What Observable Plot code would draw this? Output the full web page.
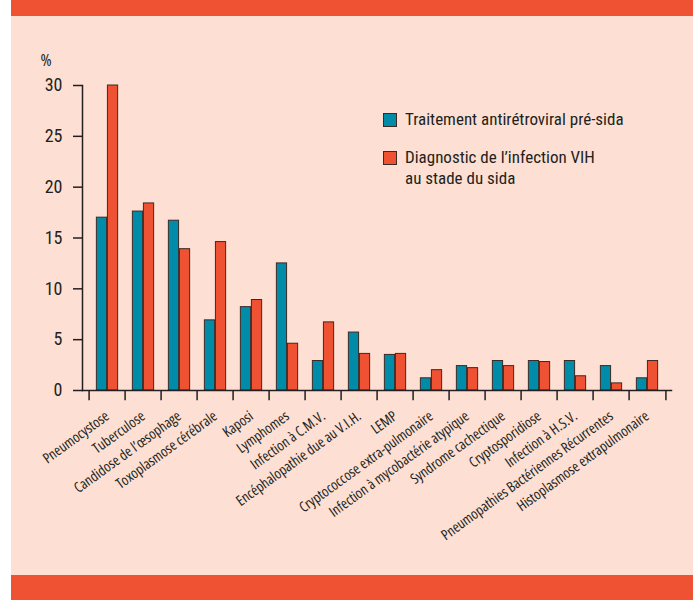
<!DOCTYPE html>
<html>
<head>
<meta charset="utf-8">
<script src="https://cdn.jsdelivr.net/npm/d3@7"></script>
<script src="https://cdn.jsdelivr.net/npm/@observablehq/plot@0.6"></script>
<style>
  html, body { margin: 0; padding: 0; background: #ffffff; }
  #wrap { position: relative; width: 693px; height: 600px; overflow: hidden;
          font-family: "Open Sans", sans-serif; font-stretch: condensed; color: #231f20; }
  .layer { position: absolute; }
  #legend { position: absolute; left: 383px; top: 109px; font-family: "Roboto Condensed", "Open Sans", sans-serif;
            font-size: 17px; line-height: 21px; }
  .item { display: flex; align-items: flex-start; margin-bottom: 17px; }
  .sw { width: 12px; height: 12px; border: 1px solid #3a2a25; margin-right: 8px; margin-top: 4px; flex: none; }
  svg text { font-stretch: condensed; }
  svg g[aria-label="y-axis tick label"] text, svg g[aria-label="unit"] text { font-family: "Roboto Condensed", "Open Sans", sans-serif; }
</style>
</head>
<body>
<div id="wrap">
  <div class="layer" style="left:11px;right:0;top:0;height:600px;background:#fde0d3"></div>
  <div class="layer" style="left:11px;right:0;top:0;height:16px;background:#ef5133"></div>
  <div class="layer" style="left:11px;right:0;top:575px;height:25px;background:#ef5133"></div>
  <div id="chart" class="layer" style="left:0;top:0"></div>
  <div id="legend"></div>
</div>
<script>
const categories = [
  "Pneumocystose", "Tuberculose", "Candidose de l’œsophage", "Toxoplasmose cérébrale",
  "Kaposi", "Lymphomes", "Infection à C.M.V.", "Encéphalopathie due au V.I.H.", "LEMP",
  "Cryptococcose extra-pulmonaire", "Infection à mycobactérie atypique", "Syndrome cachectique",
  "Cryptosporidiose", "Infection à H.S.V.", "Pneumopathies Bactériennes Récurrentes",
  "Histoplasmose extrapulmonaire"
];
const seriesNames = ["Traitement antirétroviral pré-sida", "Diagnostic de l’infection VIH\nau stade du sida"];
const preSida   = [17.0, 17.6, 16.7, 6.9, 8.2, 12.5, 2.9, 5.7, 3.5, 1.2, 2.4, 2.9, 2.9, 2.9, 2.4, 1.2];
const stadeSida = [30.0, 18.4, 13.9, 14.6, 8.9, 4.6, 6.7, 3.6, 3.6, 2.0, 2.2, 2.4, 2.8, 1.4, 0.7, 2.9];
const yTicks = [0, 5, 10, 15, 20, 25, 30];
const colors = ["#008ba8", "#ef5133"];

const W = 693, H = 600, mL = 82, mR = 22, mT = 85, mB = 210;
const step = (W - mL - mR) / categories.length;
const outer = step * 0.2;
const ink = "#231f20";
const font = '"Open Sans", sans-serif';

const chart = Plot.plot({
  width: W, height: H,
  marginLeft: mL, marginRight: mR, marginTop: mT, marginBottom: mB,
  style: { background: "transparent", fontFamily: font, color: ink, overflow: "visible" },
  x: { domain: categories, padding: 0, axis: null },
  y: { domain: [0, 30], axis: null },
  marks: [
    Plot.barY(categories, {
      x: d => d, y: (d, i) => preSida[i],
      fill: colors[0], stroke: "#3a2a25", strokeWidth: 1,
      insetLeft: outer, insetRight: step / 2
    }),
    Plot.barY(categories, {
      x: d => d, y: (d, i) => stadeSida[i],
      fill: colors[1], stroke: "#3a2a25", strokeWidth: 1,
      insetLeft: step / 2, insetRight: outer
    }),
    Plot.axisY(yTicks, {
      tickSize: 9, tickPadding: 11, fontSize: 18, label: null,
      stroke: ink, strokeWidth: 1.5, fill: ink
    }),
    Plot.frame({ anchor: "left", stroke: ink, strokeWidth: 1.5 }),
    Plot.frame({ anchor: "bottom", stroke: ink, strokeWidth: 1.5 }),
    Plot.ruleX(categories, { x: d => d, y1: 0, y2: -1, dx: -step / 2, stroke: ink, strokeWidth: 1.5 }),
    Plot.ruleX([categories[categories.length - 1]], { x: d => d, y1: 0, y2: -1, dx: step / 2, stroke: ink, strokeWidth: 1.5 }),
    Plot.text(categories, {
      x: d => d, frameAnchor: "bottom", dy: 24, dx: 0,
      rotate: -36, textAnchor: "end", lineAnchor: "middle",
      fontSize: 14.5, fill: ink
    }),
    Plot.text(["%"], { frameAnchor: "top-left", dx: -42, dy: -32, fontSize: 17, fill: ink, ariaLabel: "unit" })
  ]
});
document.getElementById("chart").appendChild(chart);

const legend = document.getElementById("legend");
seriesNames.forEach((name, i) => {
  const item = document.createElement("div");
  item.className = "item";
  const sw = document.createElement("div");
  sw.className = "sw";
  sw.style.background = colors[i];
  const label = document.createElement("div");
  label.innerHTML = name.split("\n").join("<br>");
  item.appendChild(sw);
  item.appendChild(label);
  legend.appendChild(item);
});
</script>
</body>
</html>
